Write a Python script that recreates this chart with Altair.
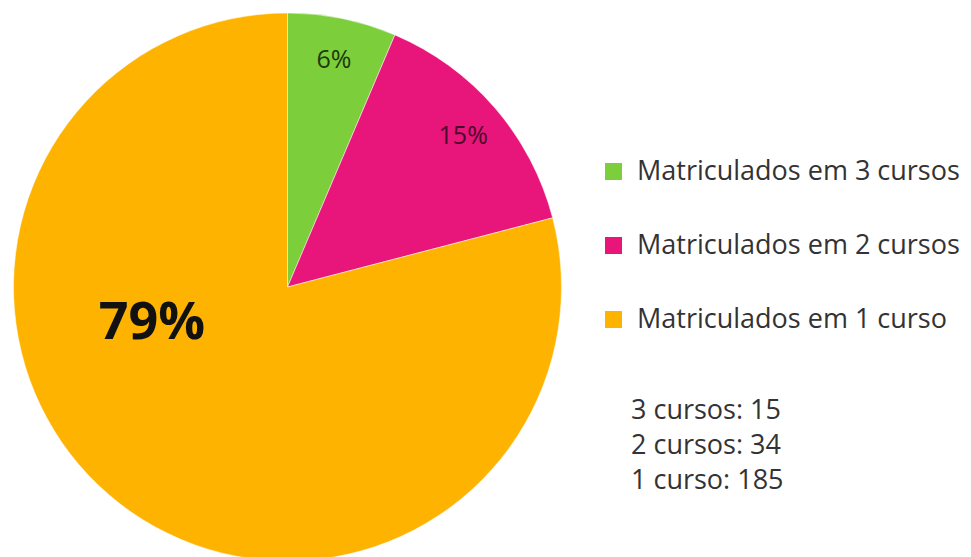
import altair as alt
import pandas as pd

categories = ["Matriculados em 3 cursos", "Matriculados em 2 cursos", "Matriculados em 1 curso"]
counts = [15, 34, 185]
percent_labels = ["6%", "15%", "79%"]
count_labels = ["3 cursos", "2 cursos", "1 curso"]
colors = ["#7ccf3a", "#e8167a", "#ffb301"]
label_colors = ["#1d3a0c", "#4b0a2c", "#111111"]

df = pd.DataFrame({
    "cat": categories,
    "n": counts,
    "pct": percent_labels,
    "ord": list(range(len(categories))),
    "lc": label_colors,
})

CX, CY, R = 279.5, 279, 274
FONT = "Open Sans"

color_scale = alt.Scale(domain=categories, range=colors)

base = alt.Chart(df).encode(
    theta=alt.Theta("n:Q", stack=True),
    order=alt.Order("ord:Q"),
    x=alt.value(CX),
    y=alt.value(CY),
)

arcs = base.mark_arc(radius=R, stroke="#ffffff", strokeWidth=0.5).encode(
    color=alt.Color(
        "cat:N",
        scale=color_scale,
        sort=categories,
        legend=alt.Legend(
            title=None,
            orient="none",
            legendX=592,
            legendY=150,
            symbolType="square",
            symbolSize=290,
            symbolStrokeWidth=0,
            labelFont=FONT,
            labelFontSize=27,
            labelColor="#333333",
            labelLimit=500,
            rowPadding=46,
            labelOffset=10,
        ),
    )
)

small_labels = base.mark_text(radius=232, font=FONT, fontSize=25).encode(
    text=alt.condition(alt.datum.ord < 2, "pct:N", alt.value("")),
    color=alt.Color("lc:N", scale=None),
)

big_label = base.mark_text(
    radius=140, font=FONT, fontSize=52, fontWeight="bold", dx=-50, dy=-75
).encode(
    text=alt.condition(alt.datum.ord == 2, "pct:N", alt.value("")),
    color=alt.Color("lc:N", scale=None),
)

summary = "\n".join(f"{l}: {n}" for l, n in zip(count_labels, counts))
summary_text = alt.Chart(pd.DataFrame({"t": [summary]})).mark_text(
    align="left", baseline="top", font=FONT, fontSize=27, lineHeight=35,
    color="#333333", lineBreak="\n"
).encode(
    x=alt.value(623),
    y=alt.value(390),
    text="t:N",
)

chart = alt.layer(arcs, small_labels, big_label, summary_text).properties(
    width=955, height=541, padding=0, background="#ffffff"
).configure_view(stroke=None)

chart.save("out.html", embed_options={"renderer": "svg", "actions": False})
